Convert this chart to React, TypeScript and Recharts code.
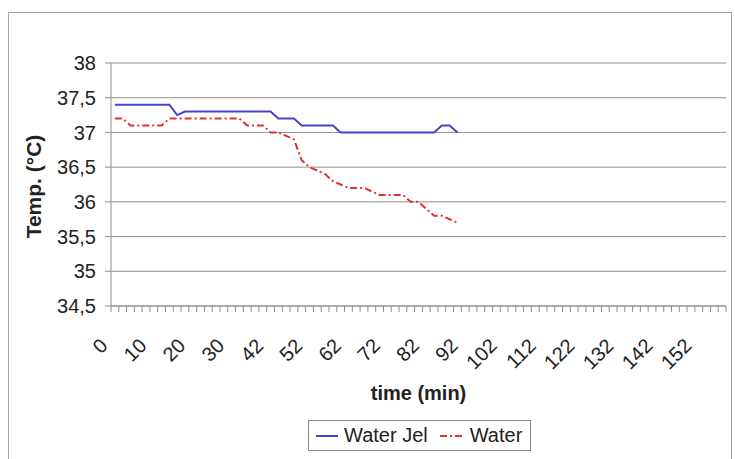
import React from 'react';
import { LineChart, Line, XAxis, YAxis, CartesianGrid, Legend } from 'recharts';

// time categories (min), as they appear on the category axis
const times = [
  0, 2, 4, 6, 8, 10, 12, 14, 16, 18, 20, 22, 24, 26, 28, 30,
  32, 34, 36, 38, 42, 44, 46, 48, 50, 52, 54, 56, 58, 60, 62,
  64, 66, 68, 70, 72, 74, 76, 78, 80, 82, 84, 86, 88, 90, 92,
  94, 96, 98, 100, 102, 104, 106, 108, 110, 112, 114, 116, 118,
  120, 122, 124, 126, 128, 130, 132, 134, 136, 138, 140, 142,
  144, 146, 148, 150, 152, 154, 156, 158,
];

const waterJel = [
  37.4, 37.4, 37.4, 37.4, 37.4, 37.4, 37.4, 37.4, 37.25, 37.3,
  37.3, 37.3, 37.3, 37.3, 37.3, 37.3, 37.3, 37.3, 37.3, 37.3,
  37.3, 37.2, 37.2, 37.2, 37.1, 37.1, 37.1, 37.1, 37.1, 37.0,
  37.0, 37.0, 37.0, 37.0, 37.0, 37.0, 37.0, 37.0, 37.0, 37.0,
  37.0, 37.0, 37.1, 37.1, 37.0,
];

const water = [
  37.2, 37.2, 37.1, 37.1, 37.1, 37.1, 37.1, 37.2, 37.2, 37.2,
  37.2, 37.2, 37.2, 37.2, 37.2, 37.2, 37.2, 37.1, 37.1, 37.1,
  37.0, 37.0, 36.95, 36.9, 36.6, 36.5, 36.45, 36.4, 36.3, 36.25,
  36.2, 36.2, 36.2, 36.15, 36.1, 36.1, 36.1, 36.1, 36.0, 36.0,
  35.9, 35.8, 35.8, 35.75, 35.7,
];

const yTicks = [34.5, 35, 35.5, 36, 36.5, 37, 37.5, 38];

const data = times.map((t, i) => ({
  time: t,
  waterJel: waterJel[i] ?? null,
  water: water[i] ?? null,
}));

const W = 735;
const H = 459;
const PLOT_LEFT = 111;
const PLOT_RIGHT = 726;
const PLOT_TOP = 63;
const PLOT_BOTTOM = 306;
const X_AXIS_H = 100;
const STEP = (PLOT_RIGHT - PLOT_LEFT) / times.length;

const FONT = '"Liberation Sans", Arial, sans-serif';
const BLUE = '#4444cc';
const RED = '#e23030';
const GRID = '#8f8f8f';
const TEXT = '#222';

const XTick = (props: any) => {
  const { x, y, payload } = props;
  const index = props.index ?? payload.index;
  const ax = x - 6;
  const ay = y + 41;
  return (
    <g>
      <line x1={x - STEP / 2} x2={x - STEP / 2} y1={y} y2={y + 6} stroke={GRID} />
      {index === times.length - 1 && (
        <line x1={x + STEP / 2} x2={x + STEP / 2} y1={y} y2={y + 6} stroke={GRID} />
      )}
      {index % 5 === 0 && (
        <text
          x={ax}
          y={ay}
          transform={`rotate(-45, ${ax}, ${ay})`}
          textAnchor="end"
          fontSize={20}
          fontFamily={FONT}
          fill={TEXT}
        >
          {payload.value}
        </text>
      )}
    </g>
  );
};

const LegendBox = () => (
  <div
    style={{
      boxSizing: 'border-box',
      width: 223,
      height: 31,
      border: '1px solid #888',
      background: '#fff',
      display: 'flex',
      alignItems: 'center',
      fontFamily: FONT,
      fontSize: 20,
      color: TEXT,
      paddingLeft: 7,
      whiteSpace: 'nowrap',
    }}
  >
    <svg width={22} height={10}>
      <line x1={0} x2={22} y1={5} y2={5} stroke={BLUE} strokeWidth={2} />
    </svg>
    <span style={{ marginLeft: 6 }}>Water Jel</span>
    <svg width={25} height={10} style={{ marginLeft: 12 }}>
      <line x1={0} x2={25} y1={5} y2={5} stroke={RED} strokeWidth={2} strokeDasharray="7 3 2 3" />
    </svg>
    <span style={{ marginLeft: 5 }}>Water</span>
  </div>
);

export default function App() {
  return (
    <div style={{ position: 'absolute', left: 0, top: 0, width: W, height: H, overflow: 'hidden', background: '#fff' }}>
      <div
        style={{
          position: 'absolute',
          left: 8,
          top: 12,
          width: 724,
          height: 470,
          border: '1px solid #a5a5a5',
          boxSizing: 'border-box',
        }}
      />
      <LineChart
        width={W}
        height={H}
        data={data}
        margin={{ top: PLOT_TOP, right: W - PLOT_RIGHT, bottom: H - PLOT_BOTTOM - X_AXIS_H, left: 0 }}
        style={{ position: 'absolute', left: 0, top: 0 }}
      >
        <CartesianGrid vertical={false} stroke={GRID} />
        <XAxis
          dataKey="time"
          type="category"
          interval={0}
          height={X_AXIS_H}
          padding={{ left: STEP / 2, right: STEP / 2 }}
          axisLine={{ stroke: GRID }}
          tickLine={false}
          tickSize={0}
          tickMargin={0}
          tick={<XTick />}
          label={{
            content: (p: any) => (
              <text
                x={p.viewBox.x + p.viewBox.width / 2}
                y={p.viewBox.y + 94}
                textAnchor="middle"
                fontSize={20}
                fontWeight="bold"
                fontFamily={FONT}
                fill={TEXT}
              >
                time (min)
              </text>
            ),
          }}
        />
        <YAxis
          width={PLOT_LEFT}
          domain={[34.5, 38]}
          ticks={yTicks}
          interval={0}
          tickSize={6}
          tickMargin={9}
          axisLine={{ stroke: GRID }}
          tickLine={{ stroke: GRID }}
          tick={{ fontSize: 20, fontFamily: FONT, fill: TEXT }}
          tickFormatter={(v: number) => String(v).replace('.', ',')}
          label={{
            content: (p: any) => (
              <text
                x={41}
                y={p.viewBox.y + p.viewBox.height / 2 + 2}
                transform={`rotate(-90, 41, ${p.viewBox.y + p.viewBox.height / 2 + 2})`}
                textAnchor="middle"
                fontSize={21}
                fontWeight="bold"
                fontFamily={FONT}
                fill={TEXT}
              >
                Temp. (°C)
              </text>
            ),
          }}
        />
        <Legend
          layout="horizontal"
          verticalAlign="middle"
          align="center"
          content={() => <LegendBox />}
          wrapperStyle={{ position: 'absolute', left: 308, top: 420, width: 223, height: 31 }}
        />
        <Line
          type="linear"
          dataKey="waterJel"
          name="Water Jel"
          stroke={BLUE}
          strokeWidth={2}
          dot={false}
          isAnimationActive={false}
        />
        <Line
          type="linear"
          dataKey="water"
          name="Water"
          stroke={RED}
          strokeWidth={2}
          strokeDasharray="7 3 2 3"
          dot={false}
          isAnimationActive={false}
        />
      </LineChart>
    </div>
  );
}
